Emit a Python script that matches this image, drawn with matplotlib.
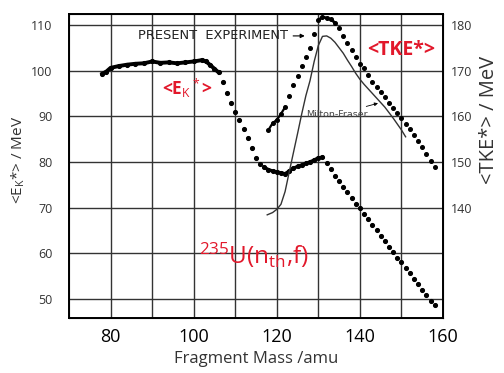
import numpy as np
import matplotlib
matplotlib.use('Agg')
import matplotlib.pyplot as plt

plt.rcParams['font.family'] = ['Open Sans', 'DejaVu Sans']
plt.rcParams['mathtext.fontset'] = 'custom'
plt.rcParams['mathtext.rm'] = 'Open Sans'
plt.rcParams['mathtext.it'] = 'Open Sans'

# <E_K*> vs fragment mass (left axis)
ek_mass = [78, 79, 80, 82, 84, 86, 88, 90, 92, 94, 96, 98, 100, 102, 103, 104, 105, 106,
           107, 108, 109, 110, 111, 112, 113, 114, 115, 116, 117, 118, 119, 120, 121, 122,
           123, 124, 125, 126, 127, 128, 129, 130, 131, 132, 133, 134, 135, 136, 137, 138,
           139, 140, 141, 142, 143, 144, 145, 146, 147, 148, 149, 150, 151, 152, 153, 154,
           155, 156, 157, 158]
ek_val = [99.3, 99.8, 100.6, 101.0, 101.3, 101.5, 101.6, 102.0, 101.7, 101.8, 101.6, 101.8,
          102.0, 102.3, 102.0, 101.2, 100.4, 99.6,
          97.6, 95.2, 92.9, 90.9, 89.2, 87.2, 85.2, 83.0, 80.8, 79.6, 78.8, 78.3, 78.0, 77.8,
          77.6, 77.4, 78.0, 78.6, 79.0, 79.3, 79.7, 80.0, 80.4, 80.9, 81.0, 79.8, 78.4, 77.0,
          75.8, 74.5, 73.4, 72.0, 70.8, 69.8, 68.6, 67.4, 66.2, 65.0, 63.8, 62.6, 61.4, 60.2,
          59.0, 58.0, 56.8, 55.6, 54.4, 53.2, 52.0, 50.8, 49.6, 48.6]

# <TKE*> present experiment (right axis)
tke_mass = [118, 119, 120, 121, 122, 123, 124, 125, 126, 127, 128, 129, 130, 131, 132, 133,
            134, 135, 136, 137, 138, 139, 140, 141, 142, 143, 144, 145, 146, 147, 148, 149,
            150, 151, 152, 153, 154, 155, 156, 157, 158]
tke_val = [157.0, 158.5, 159.2, 160.5, 162.0, 164.5, 166.8, 168.8, 171.0, 173.0, 175.0, 178.0,
           181.0, 181.8, 181.5, 181.2, 180.5, 179.3, 177.5, 176.0, 174.5, 173.0, 171.5, 170.5,
           169.0, 167.6, 166.4, 165.3, 164.2, 163.0, 161.8, 160.7, 159.6, 158.4, 157.2, 156.0,
           154.6, 153.2, 151.8, 150.3, 148.9]

# Milton-Fraser curve (right axis)
mf_mass = [117.7, 119, 120, 121, 122, 123, 124, 125, 126, 127, 128, 129, 130, 131, 132, 133,
           134, 135, 136, 137, 138, 139, 140, 141, 142, 143, 144, 145, 146, 147, 148, 149,
           150, 151]
mf_val = [138.4, 138.9, 139.6, 140.7, 143.5, 147.8, 152.0, 156.2, 160.5, 164.5, 167.8, 172.0,
          175.5, 177.5, 177.6, 177.1, 176.2, 175.0, 173.8, 172.3, 170.9, 169.4, 168.1, 167.0,
          166.0, 165.0, 164.0, 163.0, 162.0, 160.8, 159.6, 158.3, 157.0, 155.5]

x_ticks = [80, 100, 120, 140, 160]
ek_ticks = [50, 60, 70, 80, 90, 100, 110]
tke_ticks = [140, 150, 160, 170, 180]

red = '#e2182b'

fig = plt.figure(figsize=(5.04, 3.73), dpi=100, facecolor='white')
ax = fig.add_axes([69 / 504, 55 / 373, 374 / 504, 304 / 373])
ax.set_xlim(70, 160)
ax.set_ylim(45.8, 112.4)

# grid every 10 units
for m in range(80, 160, 10):
    ax.axvline(m, color='#333333', lw=1.0, zorder=1)
for e in range(50, 111, 10):
    ax.axhline(e, color='#333333', lw=1.0, zorder=1)

ek_mass = np.array(ek_mass)
ek_val = np.array(ek_val)
solid = ek_mass <= 106
ax.plot(ek_mass[solid], ek_val[solid], color='black', lw=2.8, zorder=3)
solid2 = (ek_mass >= 117) & (ek_mass <= 131)
ax.plot(ek_mass[solid2], ek_val[solid2], color='black', lw=2.4, zorder=3)
ax.plot(ek_mass, ek_val, 'o', color='black', ms=2.7, zorder=3)

ax.set_xticks(x_ticks)
ax.set_yticks(ek_ticks)
ax.tick_params(axis='x', length=0, pad=7, labelsize=13)
ax.tick_params(axis='y', length=0, pad=12, labelsize=9, labelcolor='#333333')
for s in ax.spines.values():
    s.set_linewidth(1.4)
ax.set_xlabel('Fragment Mass /amu', fontsize=12, color='#333333')
ax.set_ylabel(r'<E$_\mathrm{K}$*> / MeV', fontsize=11, color='#333333')
ax.yaxis.set_label_coords(-0.112, 0.52)

ax2 = ax.twinx()
ax2.set_ylim(45.8 + 70, 112.4 + 70)
ax2.plot(tke_mass, tke_val, 'o', color='black', ms=2.6, zorder=3)
ax2.plot(tke_mass[:5], tke_val[:5], color='black', lw=1.6, zorder=3)
ax2.plot(tke_mass[12:17], tke_val[12:17], color='black', lw=2.0, zorder=3)
ax2.plot(mf_mass, mf_val, color='#333333', lw=1.0, zorder=2)
ax2.set_yticks(tke_ticks)
ax2.tick_params(axis='y', length=0, pad=6, labelsize=9, labelcolor='#333333')
ax2.set_ylabel('<TKE*> / MeV', fontsize=14.5, color='#333333')
ax2.yaxis.set_label_coords(1.095, 0.65)

ax2.annotate('PRESENT  EXPERIMENT', xy=(127.4, 177.6), xytext=(122.6, 177.6),
             ha='right', va='center', fontsize=9.4, family='DejaVu Sans', color='#222222',
             arrowprops=dict(arrowstyle='-|>', lw=0.8, color='black', mutation_scale=6))
ax2.annotate('Milton-Fraser', xy=(145.0, 163.0), xytext=(141.8, 160.4),
             ha='right', va='center', fontsize=6.8, family='DejaVu Sans', color='#444444',
             arrowprops=dict(arrowstyle='-|>', lw=0.6, color='black', mutation_scale=5))

ax.text(98.5, 96.0, r'<E$_\mathrm{K}$$^*$>', color=red, fontsize=12.5, ha='center',
        va='center', fontweight='bold', zorder=5)
ax2.text(150.0, 174.6, '<TKE*>', color=red, fontsize=14, ha='center', va='center',
         fontweight='bold', zorder=5)
ax.text(114.6, 59.5, r'$^{235}$U(n$_{\mathrm{th}}$,f)', color=red, fontsize=17.5,
        ha='center', va='center', zorder=5)

fig.savefig('out.png', dpi=100)
